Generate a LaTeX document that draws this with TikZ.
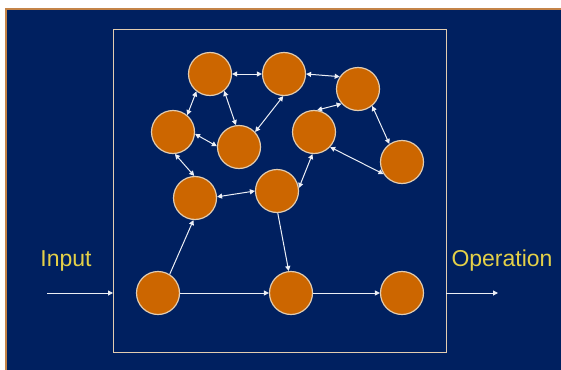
\documentclass[tikz,border=0pt]{standalone}
\usepackage{fontspec}
\setmainfont{Liberation Sans}
\usetikzlibrary{arrows.meta}
\definecolor{navy}{RGB}{0,32,96}
\definecolor{cell}{RGB}{204,102,0}
\definecolor{rim}{RGB}{226,204,176}
\definecolor{frame}{RGB}{196,132,72}
\definecolor{label}{RGB}{228,208,72}
\definecolor{wire}{RGB}{235,238,245}
\begin{document}
\begin{tikzpicture}[x=1pt,y=-1pt,
  neuron/.style={circle,fill=cell,draw=rim,line width=1.2pt,minimum size=43pt,inner sep=0pt},
  link/.style={draw=wire,line width=1pt,{Triangle[length=5pt,width=5pt]}-{Triangle[length=5pt,width=5pt]}},
  flow/.style={draw=wire,line width=1pt,-{Triangle[length=5pt,width=5pt]}},
  caption/.style={text=label,font=\fontsize{23}{26}\selectfont}]
  % page and slide background
  \useasboundingbox (0,0) rectangle (561,369);
  \fill[white] (0,0) rectangle (561,369);
  \fill[navy] (6,9) rectangle (562,370);
  \draw[frame,line width=2pt] (6,371) -- (6,9) -- (562,9);
  % network frame
  \draw[rim,line width=1pt] (113,30) rectangle (446,352);
  % hidden cells
  \node[neuron] (a) at (210,74) {};
  \node[neuron] (b) at (284,74) {};
  \node[neuron] (c) at (358,89) {};
  \node[neuron] (d) at (173,132) {};
  \node[neuron] (e) at (239,147) {};
  \node[neuron] (f) at (314,132) {};
  \node[neuron] (g) at (402,162) {};
  \node[neuron] (h) at (195,198) {};
  \node[neuron] (i) at (277,191) {};
  % input/output chain
  \node[neuron] (j) at (158,293) {};
  \node[neuron] (k) at (291,293) {};
  \node[neuron] (l) at (402,293) {};
  % recurrent links
  \draw[link] (a.east) -- (b.west);
  \draw[link] (b.east) -- (c.146);
  \draw[link] (a.232) -- (d.50);
  \draw[link] (a.-50) -- (e.98);
  \draw[link] (b.268) -- (e.43);
  \draw[link] (d.-5) -- (e.178);
  \draw[link] (f.82) -- (c.222);
  \draw[link] (c.-50) -- (g.125);
  \draw[link] (f.-43) -- (g.213);
  \draw[link] (d.-85) -- (h.92);
  \draw[link] (h.3) -- (i.180);
  \draw[link] (i.8) -- (f.266);
  % forward links
  \draw[flow] (j.58) -- (h.266);
  \draw[flow] (i.272) -- (k.96);
  \draw[flow] (j.east) -- (k.west);
  \draw[flow] (k.east) -- (l.west);
  % terminals
  \coordinate (inStart) at (47,293);
  \coordinate (inEnd) at (113,293);
  \coordinate (outStart) at (446,293);
  \coordinate (outEnd) at (498,293);
  \draw[flow] (inStart) -- (inEnd);
  \draw[flow] (outStart) -- (outEnd);
  \node[caption] (input) at (66,261) {Input};
  \node[caption] (output) at (502,261) {Operation};
\end{tikzpicture}
\end{document}
